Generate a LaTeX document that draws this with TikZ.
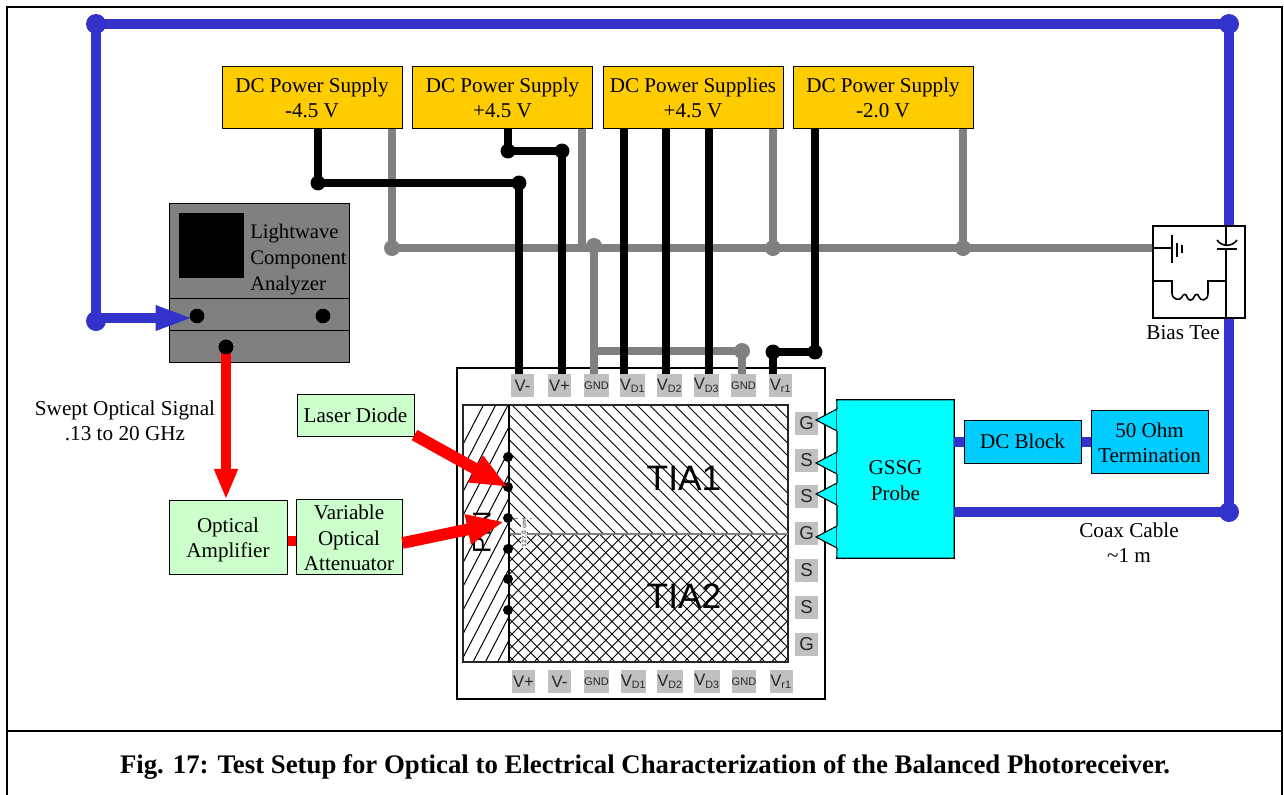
\documentclass[tikz,border=0pt]{standalone}
\usepackage{fontspec}
\setmainfont{Liberation Serif}
\setsansfont{Liberation Sans}
\usetikzlibrary{arrows.meta}
\definecolor{psY}{HTML}{FFCC00}
\definecolor{grn}{HTML}{CCFFCC}
\definecolor{blu}{HTML}{3333CC}
\definecolor{gry}{HTML}{808080}
\definecolor{pad}{HTML}{C0C0C0}
\definecolor{sky}{HTML}{00CCFF}
\definecolor{aqua}{HTML}{00FFFF}
\newcommand{\fs}[1]{\fontsize{#1}{1.195\dimexpr #1pt\relax}\selectfont}
\newcommand{\lowr}[2]{\raisebox{-#1}[\height][\depth]{\begin{tabular}{@{}c@{}}#2\end{tabular}}}
\tikzset{
  boxn/.style={draw=black,line width=0.75pt,inner sep=0pt,align=center,font=\fs{15.8}},
  psbox/.style={boxn,fill=psY,minimum width=135pt,minimum height=47pt,text depth=0pt},
  grnbox/.style={boxn,fill=grn},
  padn/.style={fill=pad,inner sep=0pt,minimum width=17.25pt,minimum height=17.25pt,font=\sffamily\fs{12.5},text=black!85},
  padg/.style={padn,font=\sffamily\fs{8.3}},
  bluel/.style={draw=blu,line width=7.5pt},
  grayl/.style={draw=gry,line width=5.6pt},
  blackl/.style={draw=black,line width=5.6pt},
  redl/.style={draw=red,line width=8pt},
  redlb/.style={draw=red,line width=8.8pt},
  dotb/.style={circle,fill=blu,inner sep=0pt,minimum size=15pt},
  dotk/.style={circle,fill=black,inner sep=0pt,minimum size=11pt},
  dots/.style={circle,fill=black,inner sep=0pt,minimum size=7.5pt},
  lab/.style={inner sep=0pt,align=center,font=\fs{15.9}},
  hatch/.style={line width=0.75pt,black},
  tip/.style={draw=black,line width=0.8pt,fill=aqua,line join=miter},
  sym/.style={line width=1.2pt,black},
  bluehead/.style={-{Triangle[length=28pt,width=17pt]}},
  redhead/.style={-{Triangle[length=28pt,width=21pt]}},
  redheadv/.style={-{Triangle[length=23pt,width=16.5pt]}},
}
\newcommand{\vsub}[2]{V\textsubscript{\fs{8}#2}}
\begin{document}
\begin{tikzpicture}[x=0.75pt,y=-0.75pt]
\useasboundingbox (0,0) rectangle (1284,794);
% frame
\draw[line width=1.5pt] (7,800) -- (7,7) -- (1282,7) -- (1282,800);
\draw[line width=1.5pt] (7,731) -- (1282,731);
\node[font=\bfseries\fs{20.1},inner sep=0pt] (cap) at (645,767) {Fig. 17: Test Setup for Optical to Electrical Characterization of the Balanced Photoreceiver.};

% power supplies
\node[psbox] (ps1) at (312,97.5) {DC Power Supply\\-4.5 V};
\node[psbox] (ps2) at (502.5,97.5) {DC Power Supply\\+4.5 V};
\node[psbox] (ps3) at (693,97.5) {DC Power Supplies\\+4.5 V};
\node[psbox] (ps4) at (883,97.5) {DC Power Supply\\-2.0 V};

% chip
\node[draw=black,line width=0.8pt,fill=white,minimum width=276pt,minimum height=248.25pt,inner sep=0pt] (chip) at (641,533.5) {};

% hatch regions
\begin{scope}
\clip (463,405) rectangle (509,662);
\foreach \k in {0,...,40} {\draw[hatch] ({350+12.3*\k},662) -- ++(136,-262);}
\end{scope}
\begin{scope}
\clip (509,405) rectangle (788,534);
\foreach \k in {-12,...,24} {\draw[hatch] ({512+12.5*\k},405) -- ++(140,140);}
\end{scope}
\begin{scope}
\clip (509,534) rectangle (788,662);
\foreach \k in {-12,...,24} {\draw[hatch] ({512+12.5*\k},534) -- ++(140,140);}
\foreach \k in {0,...,36} {\draw[hatch] ({512+12.5*\k},534) -- ++(-140,140);}
\end{scope}
\draw[line width=0.8pt,black!85] (463,405) rectangle (788,662);
\draw[gry,line width=1.6pt] (509,534) -- (788,534);
\draw[line width=1.5pt] (509,405) -- (509,662);
\node[font=\sffamily\fs{19},inner sep=0pt,rotate=90] (pin) at (482,532) {PIN};
\node[fill=white,inner sep=0.4pt,rotate=90,font=\sffamily\bfseries\fs{5},text=black!60] (dim) at (524,533) {127.0 um};
\draw[black!45,line width=0.5pt,dashed] (514,518) -- (532,518);
\node[font=\sffamily\fs{26.5},inner sep=0pt] (tia1) at (684,478) {TIA1};
\node[font=\sffamily\fs{26.5},inner sep=0pt] (tia2) at (684,596) {TIA2};
\foreach \n/\y in {a/457,b/487,c/518,d/549,e/579,f/610} {\node[dots] (pd\n) at (508,\y) {};}

% top pads
\node[padn] (tVm) at (522.5,385.5) {V-};
\node[padn] (tVp) at (559.5,385.5) {V+};
\node[padg] (tG1) at (596.5,385.5) {GND};
\node[padn] (tD1) at (632.5,385.5) {\vsub{}{D1}};
\node[padn] (tD2) at (669.5,385.5) {\vsub{}{D2}};
\node[padn] (tD3) at (706.5,385.5) {\vsub{}{D3}};
\node[padg] (tG2) at (743.5,385.5) {GND};
\node[padn] (tR1) at (780.5,385.5) {\vsub{}{r1}};
% bottom pads
\node[padn] (bVp) at (523.5,681.5) {V+};
\node[padn] (bVm) at (559.5,681.5) {V-};
\node[padg] (bG1) at (596.5,681.5) {GND};
\node[padn] (bD1) at (633.5,681.5) {\vsub{}{D1}};
\node[padn] (bD2) at (670,681.5) {\vsub{}{D2}};
\node[padn] (bD3) at (707,681.5) {\vsub{}{D3}};
\node[padg] (bG2) at (744,681.5) {GND};
\node[padn] (bR1) at (781,681.5) {\vsub{}{r1}};
% right pads
\foreach \n/\t/\y in {1/G/423.5,2/S/460.5,3/S/496.5,4/G/533.5,5/S/570.5,6/S/607.5,7/G/644.5}
  {\node[padn,font=\sffamily\fs{14}] (r\n) at (806.5,\y) {\t};}

% named junctions
\coordinate (gL) at (392,248);
\coordinate (gA) at (582,248);
\coordinate (gB) at (594,246);
\coordinate (gC) at (773,248);
\coordinate (gD) at (963,248);
\coordinate (gE) at (594,351);
\coordinate (gF) at (742,351);
\coordinate (k1) at (318,183);
\coordinate (k2) at (519,183);
\coordinate (k3) at (508,151);
\coordinate (k4) at (562,151);
\coordinate (k5) at (815,352);
\coordinate (k6) at (773,352);
\coordinate (xD1) at (624,129);
\coordinate (xD2) at (666,129);
\coordinate (xD3) at (709,129);

% Bias tee box
\node[draw=black,line width=1.2pt,fill=white,minimum width=69pt,minimum height=69pt,inner sep=0pt] (tee) at (1199,272) {};
\coordinate (tL) at (tee.west |- gD);

% gray wires
\draw[grayl] (gL |- ps1.south) -- (gL) -- (tL);
\draw[grayl] (gA |- ps2.south) -- (gA);
\draw[grayl] (gC |- ps3.south) -- (gC);
\draw[grayl] (gD |- ps4.south) -- (gD);
\draw[grayl] (gB) -- (gB |- tG1.north);
\draw[grayl] (gE) -- (gF) -- (gF |- tG2.north);
\foreach \c in {gL,gB,gC,gD,gF} {\fill[gry] (\c) circle (6pt);}

% black wires
\draw[blackl] (k1 |- ps1.south) -- (k1) -- (k2) -- (k2 |- tVm.north);
\draw[blackl] (k3 |- ps2.south) -- (k3) -- (k4) -- (k4 |- tVp.north);
\draw[blackl] (xD1 |- ps3.south) -- (xD1 |- tD1.north);
\draw[blackl] (xD2 |- ps3.south) -- (xD2 |- tD2.north);
\draw[blackl] (xD3 |- ps3.south) -- (xD3 |- tD3.north);
\draw[blackl] (k5 |- ps4.south) -- (k5) -- (k6) -- (k6 |- tR1.north);
\foreach \c in {k1,k2,k3,k4,k5,k6} {\fill[black] (\c) circle (5.6pt);}

% analyzer
\node[draw=black,line width=0.75pt,fill=gry,minimum width=135pt,minimum height=119.25pt,inner sep=0pt] (lca) at (259,282.5) {};
\draw[line width=0.75pt] (lca.west |- 0,298) -- (lca.east |- 0,298);
\draw[line width=0.75pt] (lca.west |- 0,330) -- (lca.east |- 0,330);
\node[fill=black,minimum width=48.75pt,minimum height=48.75pt,inner sep=0pt] (scr) at (211.5,245.5) {};
\node[anchor=west,inner sep=0pt,font=\fs{15.5}] (l1) at (250,234) {Lightwave};
\node[anchor=west,inner sep=0pt,font=\fs{15.5}] (l2) at (250,260) {Component};
\node[anchor=west,inner sep=0pt,font=\fs{15.5}] (l3) at (250,286) {Analyzer};
\node[dotk] (dA) at (197,316) {};
\node[dotk] (dB) at (323,316) {};
\node[dotk] (dC) at (226,347) {};

% blue wires
\node[dotb] (b1) at (96,24) {};
\node[dotb] (b2) at (1229,24) {};
\node[dotb] (b3) at (96,321) {};
\node[dotb] (b4) at (1229,512) {};
\draw[bluel] (b3.center) -- (b1.center) -- (b2.center) -- (b4.center);
\coordinate (bS) at (96,318);
\coordinate (bE) at (193,318);
\draw[bluel,bluehead] (bS) -- (bE);

% bias tee symbols (redrawn over the through line)
\node[draw=black,line width=1.2pt,fill=white,minimum width=69pt,minimum height=69pt,inner sep=0pt] (tee2) at (tee) {};
\coordinate (vT) at (1226,226);
\coordinate (vB) at (1226,318);
\draw[sym] (vT) -- (1226,245.5) (1226,249) -- (vB);
\draw[sym] (1217,240) .. controls (1222,247) and (1232,247) .. (1237,240);
\draw[sym] (1217,249) -- (1237,249);
\draw[sym] (tee2.west |- gD) -- (1172,248);
\draw[sym] (1172,235) -- (1172,263);
\draw[sym] (1177,243) -- (1177,257);
\draw[sym] (1182,245) -- (1182,253);
\draw[sym] (tee2.west |- 0,281) -- (1172,281) -- (1172,293)
  .. controls (1172,300) and (1180,301) .. (1182,297)
  .. controls (1183,294) and (1186,293) .. (1187,297)
  .. controls (1188,301) and (1193,301) .. (1194,297)
  .. controls (1195,294) and (1198,293) .. (1199,297)
  .. controls (1200,301) and (1208,302) .. (1208,293)
  -- (1208,281) -- (1226,281);
\node[lab] (teeL) at (1183,333) {Bias Tee};

% green boxes
\node[grnbox,minimum width=87.75pt,minimum height=31.5pt] (ld) at (355.5,415) {Laser Diode};
\node[grnbox,minimum width=88.5pt,minimum height=55.5pt] (oa) at (228,537) {\lowr{2.3pt}{Optical\\Amplifier}};
\node[grnbox,minimum width=79.5pt,minimum height=55.5pt] (voa) at (349,537) {\lowr{2.3pt}{Variable\\Optical\\Attenuator}};
% red wires
\draw[redl,redheadv] (dC.center) -- (oa.north -| dC);
\fill[black] (dC) circle (5.5pt);
\draw[redl] (oa.east |- 0,541) -- (voa.west |- 0,541);
\coordinate (rA) at (ld.east |- 0,435);
\coordinate (rB) at (voa.east |- 0,543);
\draw[redlb,redhead] (rA) -- (pdb.center);
\draw[redlb,redhead] (rB) -- (pdc.south west);

\node[lab] (sw) at (125,420.5) {Swept Optical Signal\\.13 to 20 GHz};

% probe
\foreach \y/\n in {420/p1,463/p2,494/p3,537/p4}
  {\draw[tip] (837,\y-11) -- (816,\y) coordinate (\n) -- (837,\y+11) -- cycle;}
\node[fill=aqua,inner sep=0pt,minimum width=87.75pt,minimum height=118.5pt,align=center,font=\fs{15.8}] (gssg) at (895.5,479) {\lowr{2.6pt}{GSSG\\Probe}};
\draw[line width=0.8pt] (837,409) -- (gssg.north west) -- (gssg.north east) -- (gssg.south east) -- (gssg.south west) -- (837,548)
  (837,431) -- (837,452) (837,474) -- (837,483) (837,505) -- (837,526);

% DC block & termination
\node[boxn,fill=sky,minimum width=87.75pt,minimum height=32.25pt] (dcb) at (1022.5,441.5) {DC Block};
\node[boxn,fill=sky,minimum width=87.75pt,minimum height=47.25pt] (term) at (1149.5,441.5) {\lowr{2.6pt}{50 Ohm\\Termination}};
\draw[bluel] (gssg.east |- dcb) -- (dcb.west);
\draw[bluel] (dcb.east) -- (term.west);
\draw[bluel] (gssg.east |- b4) -- (b4.center);
\node[lab] (cx) at (1129,542.5) {Coax Cable\\\textasciitilde 1 m};
\end{tikzpicture}
\end{document}
